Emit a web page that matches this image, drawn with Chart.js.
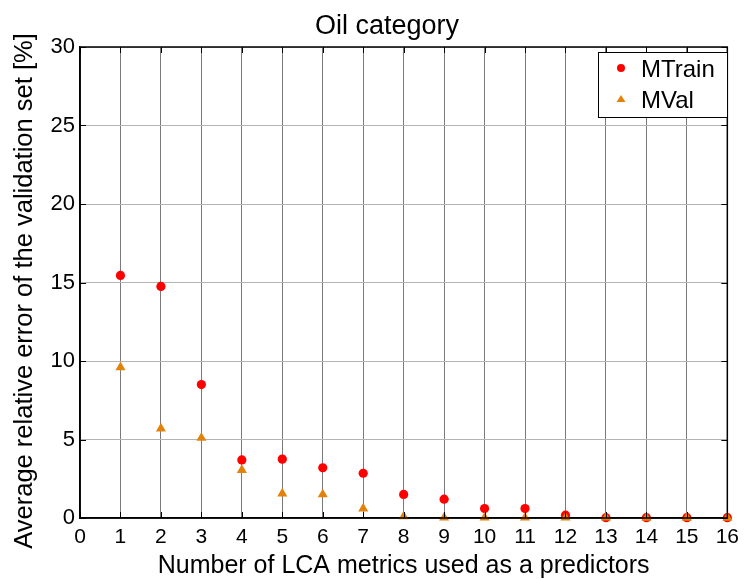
<!DOCTYPE html>
<html>
<head>
<meta charset="utf-8">
<script src="https://cdn.jsdelivr.net/npm/chart.js@4/dist/chart.umd.min.js"></script>
<style>
  html, body { margin: 0; padding: 0; background: #fff; }
  #wrap { width: 746px; height: 580px; position: relative; }
</style>
</head>
<body>
<div id="wrap"><canvas id="c"></canvas></div>
<script>
// Number of LCA metrics used as predictors
const metricCounts = [1, 2, 3, 4, 5, 6, 7, 8, 9, 10, 11, 12, 13, 14, 15, 16];
// Average relative error [%] per model
const mTrain = [15.45, 14.75, 8.5, 3.7, 3.75, 3.2, 2.85, 1.5, 1.2, 0.6, 0.6, 0.18, 0.02, 0.02, 0.02, 0.02];
const mVal = [9.6, 5.7, 5.1, 3.05, 1.55, 1.5, 0.6, 0.1, 0.02, 0.02, 0.02, 0.02, 0.02, 0.01, 0.01, 0.01];
const xTicks = [0, 1, 2, 3, 4, 5, 6, 7, 8, 9, 10, 11, 12, 13, 14, 15, 16];
const yTicks = [0, 5, 10, 15, 20, 25, 30];

const FONT = 'Liberation Sans, Arial, sans-serif';
const TITLE = 'Oil category';
const Y_TITLE = 'Average relative error of the validation set [%]';

function toPoints(xs, ys) {
  return xs.map((x, i) => ({ x: x, y: ys[i] }));
}

// Title, y-axis label, box frame, inner tick marks and the boxed legend
const framePlugin = {
  id: 'frame',
  afterDraw(chart) {
    const { ctx, chartArea: a, scales } = chart;
    ctx.save();
    ctx.fillStyle = '#000';

    // title
    ctx.font = '27px ' + FONT;
    ctx.textAlign = 'center';
    ctx.textBaseline = 'alphabetic';
    ctx.fillText(TITLE, 387, 34);

    // y-axis label
    ctx.save();
    ctx.translate(32, 291);
    ctx.rotate(-Math.PI / 2);
    ctx.font = '25.5px ' + FONT;
    ctx.textAlign = 'center';
    ctx.textBaseline = 'alphabetic';
    ctx.fillText(Y_TITLE, 0, 0);
    ctx.restore();

    // frame
    ctx.strokeStyle = '#000';
    ctx.lineWidth = 1.5;
    ctx.strokeRect(a.left, a.top, a.right - a.left, a.bottom - a.top);

    // inner tick marks on all four sides
    ctx.lineWidth = 1;
    ctx.beginPath();
    xTicks.forEach(v => {
      const px = Math.round(scales.x.getPixelForValue(v)) + 0.5;
      ctx.moveTo(px, a.top); ctx.lineTo(px, a.top + 6);
      ctx.moveTo(px, a.bottom); ctx.lineTo(px, a.bottom - 6);
    });
    yTicks.forEach(v => {
      const py = Math.round(scales.y.getPixelForValue(v)) + 0.5;
      ctx.moveTo(a.right, py); ctx.lineTo(a.right - 6, py);
      ctx.moveTo(a.left, py); ctx.lineTo(a.left + 6, py);
    });
    ctx.stroke();

    // legend
    const bx = 598, by = 52, bw = 129, bh = 65;
    ctx.fillStyle = '#fff';
    ctx.fillRect(bx, by, bw, bh);
    ctx.strokeStyle = '#000';
    ctx.lineWidth = 1;
    ctx.strokeRect(bx + 0.5, by + 0.5, bw, bh);
    chart.data.datasets.forEach((ds, i) => {
      const cy = by + 16 + i * 31;
      const mx = bx + 23;
      ctx.fillStyle = ds.backgroundColor;
      ctx.beginPath();
      if (ds.pointStyle === 'triangle') {
        ctx.moveTo(mx, cy - 4);
        ctx.lineTo(mx + 4.5, cy + 3);
        ctx.lineTo(mx - 4.5, cy + 3);
        ctx.closePath();
      } else {
        ctx.arc(mx, cy, 4, 0, Math.PI * 2);
      }
      ctx.fill();
      ctx.fillStyle = '#000';
      ctx.font = '24px ' + FONT;
      ctx.textAlign = 'left';
      ctx.textBaseline = 'alphabetic';
      ctx.fillText(ds.label, bx + 43, cy + 9);
    });
    ctx.restore();
  }
};

new Chart(document.getElementById('c'), {
  type: 'scatter',
  data: {
    datasets: [
      {
        label: 'MTrain',
        data: toPoints(metricCounts, mTrain),
        pointStyle: 'circle',
        backgroundColor: '#ff0000',
        borderColor: '#ff0000',
        pointRadius: 4.6,
        pointBorderWidth: 0,
        clip: false,
        order: 1
      },
      {
        label: 'MVal',
        data: toPoints(metricCounts, mVal),
        pointStyle: 'triangle',
        backgroundColor: '#e3820a',
        borderColor: '#e3820a',
        pointRadius: 5.8,
        pointBorderWidth: 0,
        clip: false,
        order: 0
      }
    ]
  },
  options: {
    responsive: true,
    maintainAspectRatio: false,
    animation: false,
    layout: { padding: { top: 47, right: 11, bottom: 0, left: 0 } },
    plugins: {
      legend: { display: false },
      title: { display: false },
      tooltip: { enabled: false }
    },
    scales: {
      x: {
        type: 'linear',
        min: 0,
        max: 16,
        afterBuildTicks(scale) { scale.ticks = xTicks.map(v => ({ value: v })); },
        afterFit(scale) { scale.height = 62; },
        ticks: { color: '#000', font: { family: FONT, size: 21 }, padding: 7, maxRotation: 0, autoSkip: false },
        grid: { color: '#7a7a7a', lineWidth: 1, drawTicks: false },
        border: { display: true, color: '#000', width: 1.5 },
        title: {
          display: true,
          text: 'Number of LCA metrics used as a predictors',
          color: '#000',
          font: { family: FONT, size: 25, lineHeight: 1 },
          padding: { top: 0, bottom: 1.5 }
        }
      },
      y: {
        type: 'linear',
        min: 0,
        max: 30,
        afterBuildTicks(scale) { scale.ticks = yTicks.map(v => ({ value: v })); },
        afterFit(scale) { scale.width = 80; },
        ticks: { color: '#000', font: { family: FONT, size: 22 }, padding: 5 },
        grid: { color: '#b4b4b4', lineWidth: 1, drawTicks: false },
        border: { display: true, color: '#000', width: 1.5 },
        title: { display: false }
      }
    }
  },
  plugins: [framePlugin]
});
</script>
</body>
</html>
